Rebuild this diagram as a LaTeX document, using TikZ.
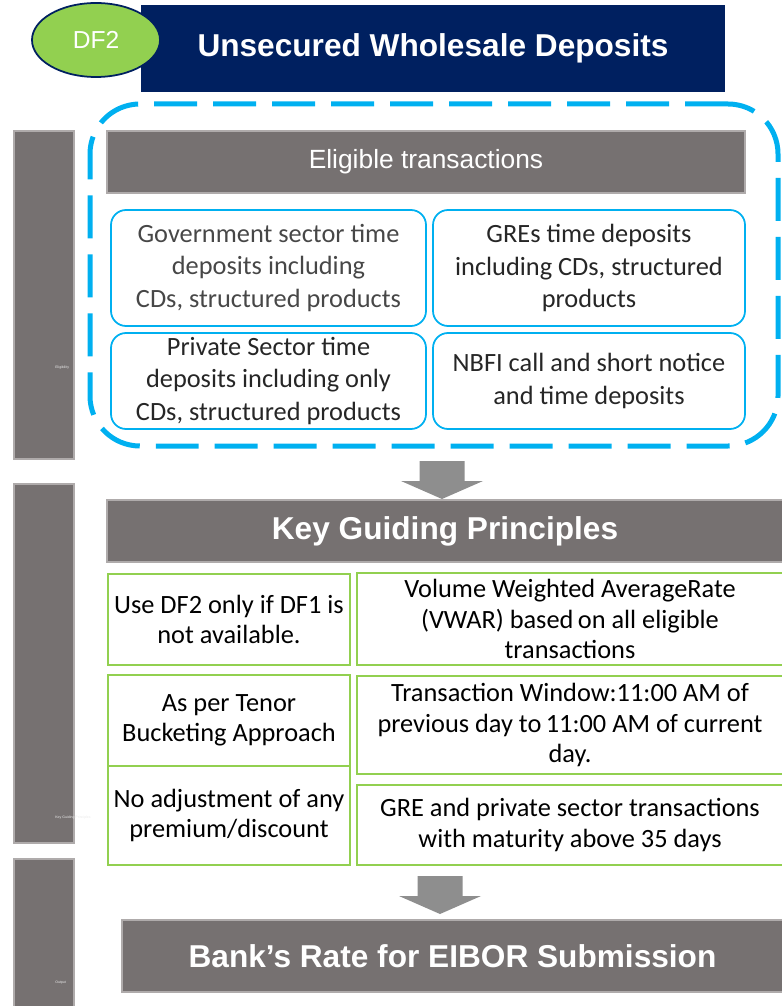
\documentclass[tikz,border=0pt]{standalone}
\usepackage{fontspec}
\setmainfont{Carlito}
\newfontfamily\headfont{Liberation Sans}
\usetikzlibrary{shapes.geometric}

\definecolor{navy}{RGB}{0,32,96}
\definecolor{dfgreen}{RGB}{146,208,80}
\definecolor{skyblue}{RGB}{0,176,240}
\definecolor{bargray}{RGB}{118,113,113}
\definecolor{barline}{RGB}{175,171,171}
\definecolor{arrowgray}{RGB}{142,142,142}

\tikzset{
  size/.style 2 args={minimum width=#1*0.02cm, minimum height=#2*0.02cm},
  bar/.style={rectangle, fill=bargray, draw=barline, line width=1.2pt, inner sep=0pt, text=white},
  sidetext/.style={inner sep=0pt, text=white!85!bargray, font=\fontsize{2}{2}\selectfont\headfont},
  heading/.style={bar, font=\fontsize{18}{20}\selectfont\headfont\bfseries},
  eligbox/.style={rectangle, rounded corners=0.3cm, draw=skyblue, line width=1pt, inner sep=0pt, align=center, text=black!85, font=\fontsize{15}{18.7}\selectfont},
  rulebox/.style={rectangle, draw=dfgreen, line width=1.3pt, inner sep=0pt, align=center, font=\fontsize{15}{17.3}\selectfont},
  dashbox/.style={rectangle, rounded corners=1cm, draw=skyblue, line width=0.1cm, dash pattern=on 0.86cm off 0.32cm},
  downarrow/.pic={\fill[arrowgray] (-22.5,-19) -- (22.5,-19) -- (22.5,1) -- (41,1) -- (0,19) -- (-41,1) -- (-22.5,1) -- cycle;}
}

\begin{document}
\begin{tikzpicture}[x=0.02cm, y=-0.02cm]
  \useasboundingbox (0,0) rectangle (781,1006);

  % Side bars
  \node[bar, size={60}{328}] (sideelig) at (44,295) {};
  \node[bar, size={60}{359}] (sidekey) at (44,663.5) {};
  \node[bar, size={60}{151}] (sideout) at (44,934.5) {};
  \node[sidetext, anchor=west] (sideeliglabel) at (55,368) {Eligibility};
  \node[sidetext, anchor=west] (sidekeylabel) at (55,818) {Key Guiding Principles};
  \node[sidetext, anchor=west] (sideoutlabel) at (55,983) {Output};

  % Title
  \node[rectangle, fill=navy, size={584}{87}, text=white, font=\fontsize{18}{20}\selectfont\headfont\bfseries] (title) at (433,48.5) {Unsecured Wholesale Deposits};
  \node[ellipse, fill=dfgreen, draw=navy, line width=1pt, size={128}{74}, text=white, font=\fontsize{14}{16}\selectfont\headfont] (dftag) at (96,40) {DF2};

  % Eligible transactions
  \node[dashbox, size={688}{342}] (eligframe) at (434,275) {};
  \node[bar, size={638}{62}, font=\fontsize{15}{17}\selectfont\headfont] (elighead) at (426,162) {Eligible transactions};
  \node[eligbox, size={315}{116}, text=black!72] (gov) at (268.5,268) {Government sector time\\deposits including\\CDs, structured products};
  \node[eligbox, size={312}{116}] (gre) at (589,268) {GREs time deposits\\including CDs, structured\\products};
  \node[eligbox, size={315}{96}] (priv) at (268.5,381) {Private Sector time\\deposits including only\\CDs, structured products};
  \node[eligbox, size={312}{96}] (nbfi) at (589,381) {NBFI call and short notice\\and time deposits};

  \pic at (442,480) {downarrow};

  % Key guiding principles
  \node[heading, size={676}{62}] (keyhead) at (445,531) {Key Guiding Principles};
  \node[rulebox, size={242}{91}] (usedf) at (229,619.5) {Use DF2 only if DF1 is\\not available.};
  \node[rulebox, size={242}{91}] (tenor) at (229,720.5) {As per Tenor\\Bucketing Approach};
  \node[rulebox, size={242}{99}] (noadj) at (229,815.5) {No adjustment of any\\premium/discount};
  \node[rulebox, size={426}{92}] (vwar) at (570,619) {Volume Weighted AverageRate\\(VWAR) based\,on all eligible\\transactions};
  \node[rulebox, size={426}{98}] (window) at (570,725) {Transaction Window:11:00 AM of\\previous day to\,11:00 AM of current\\day.};
  \node[rulebox, size={426}{80}] (maturity) at (570,825) {GRE and private sector transactions\\with maturity above 35 days};

  \pic at (440,895) {downarrow};

  % Output
  \node[heading, size={661}{72}] (bankrate) at (452.5,956) {Bank’s Rate for EIBOR Submission};
\end{tikzpicture}
\end{document}
